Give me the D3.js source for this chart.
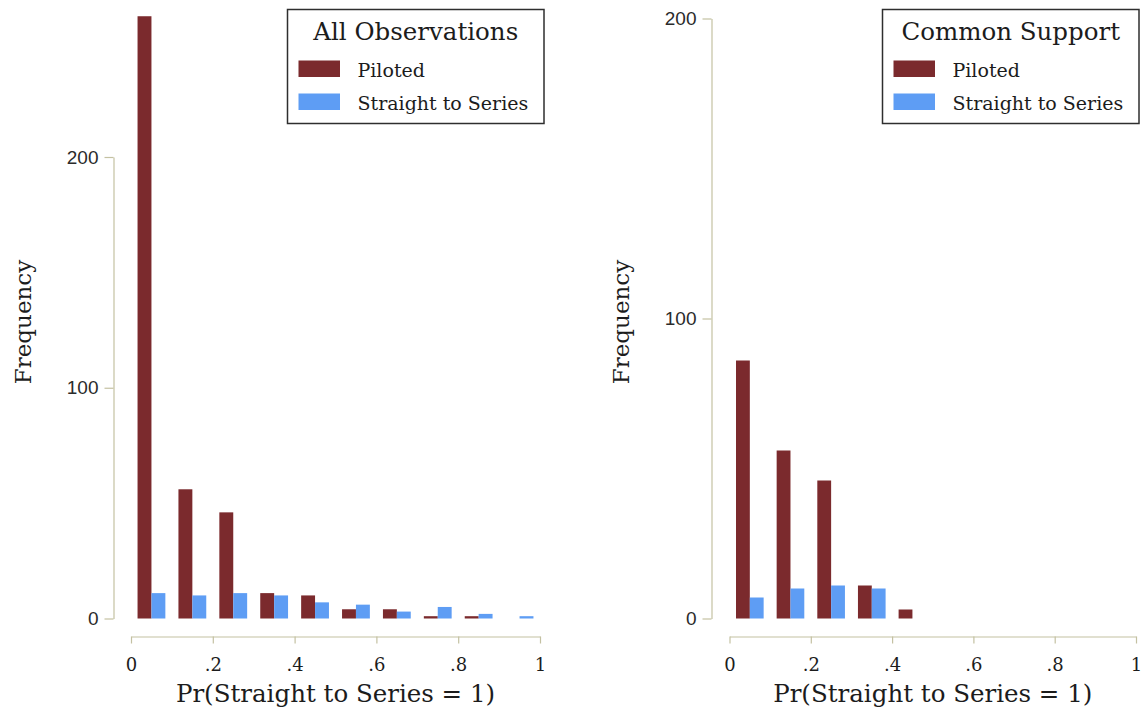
<!DOCTYPE html>
<html>
<head>
<meta charset="utf-8">
<script src="https://cdn.jsdelivr.net/npm/d3@7"></script>
<style>
  html, body { margin: 0; padding: 0; background: #ffffff; }
  svg { display: block; }
</style>
</head>
<body>
<svg id="chart" width="1145" height="713"></svg>
<script>
// Histogram bins of the propensity score Pr(Straight to Series = 1): bin centres
const binCenters = [0.05, 0.15, 0.25, 0.35, 0.45, 0.55, 0.65, 0.75, 0.85, 0.95];

// All observations
const allPiloted  = [261, 56, 46, 11, 10, 4, 4, 1, 1, 0];
const allStraight = [11, 10, 11, 10, 7, 6, 3, 5, 2, 1];

// Common-support sample
const csPiloted  = [86, 56, 46, 11, 3, 0, 0, 0, 0, 0];
const csStraight = [7, 10, 11, 10, 0, 0, 0, 0, 0, 0];

const seriesNames = ["Piloted", "Straight to Series"];
const panelTitles = ["All Observations", "Common Support"];

const xTickValues = [0, 0.2, 0.4, 0.6, 0.8, 1];
const xTickLabels = ["0", ".2", ".4", ".6", ".8", "1"];
const yTickValues = [0, 100, 200];
const yTickLabels = ["0", "100", "200"];

const xTitle = "Pr(Straight to Series = 1)";
const yTitle = "Frequency";

const colors = ["#7b2a2d", "#5e9df4"];
const axisColor = "#c4c1a2";
const textColor = "#1c1c1c";
const serif = "'DejaVu Serif', serif";
const sans = "'Liberation Sans', Arial, sans-serif";

const svg = d3.select("#chart");

function drawPanel(opt) {
  const g = svg.append("g");

  const x = d3.scaleLinear().domain([0, 1]).range([opt.x0, opt.x1]);
  const y = d3.scaleLinear().domain([0, 200]).range([opt.yBase, opt.yTop]);
  const barW = x(0.034) - x(0);

  // bars: Piloted to the left of each bin centre, Straight to Series to the right
  const series = [opt.piloted, opt.straight];
  series.forEach((vals, si) => {
    g.append("g").selectAll("rect")
      .data(vals.map((v, i) => ({ c: binCenters[i], v })).filter(d => d.v > 0))
      .join("rect")
        .attr("x", d => si === 0 ? x(d.c) - barW : x(d.c))
        .attr("width", barW)
        .attr("y", d => y(d.v))
        .attr("height", d => y(0) - y(d.v))
        .attr("fill", colors[si]);
  });

  // y axis
  const yAxis = g.append("g")
    .attr("transform", `translate(${opt.yAxisX},0)`)
    .call(d3.axisLeft(y)
      .tickValues(yTickValues)
      .tickFormat((d, i) => yTickLabels[i])
      .tickSize(9)
      .tickSizeOuter(0)
      .tickPadding(6));
  yAxis.select(".domain").attr("stroke", axisColor).attr("stroke-width", 1.2);
  yAxis.selectAll(".tick line").attr("stroke", axisColor).attr("stroke-width", 1.2);
  yAxis.selectAll(".tick text")
    .attr("font-family", sans)
    .attr("font-size", 19)
    .attr("fill", "#2b2b2b");

  // x axis
  const xAxis = g.append("g")
    .attr("transform", `translate(0,${opt.xAxisY})`)
    .call(d3.axisBottom(x)
      .tickValues(xTickValues)
      .tickFormat((d, i) => xTickLabels[i])
      .tickSize(7)
      .tickSizeOuter(0)
      .tickPadding(15));
  xAxis.select(".domain").attr("stroke", axisColor).attr("stroke-width", 1.2);
  xAxis.selectAll(".tick line").attr("stroke", axisColor).attr("stroke-width", 1.2);
  xAxis.selectAll(".tick text")
    .attr("font-family", serif)
    .attr("font-size", 18)
    .attr("fill", textColor);

  // axis titles
  g.append("text")
    .attr("x", (opt.x0 + opt.x1) / 2)
    .attr("y", 701.5)
    .attr("text-anchor", "middle")
    .attr("font-family", serif)
    .attr("font-size", 24.5)
    .attr("fill", textColor)
    .text(xTitle);

  g.append("text")
    .attr("transform", `translate(${opt.yTitleX},322) rotate(-90)`)
    .attr("text-anchor", "middle")
    .attr("font-family", serif)
    .attr("font-size", 23)
    .attr("fill", textColor)
    .text(yTitle);

  // legend box
  const lg = g.append("g").attr("transform", `translate(${opt.legendX},9.5)`);
  const lw = 256.5, lh = 114;
  lg.append("rect")
    .attr("width", lw).attr("height", lh)
    .attr("fill", "#ffffff")
    .attr("stroke", "#2e2e2e")
    .attr("stroke-width", 1.5);
  lg.append("text")
    .attr("x", lw / 2).attr("y", 30.5)
    .attr("text-anchor", "middle")
    .attr("font-family", serif)
    .attr("font-size", 24.5)
    .attr("fill", textColor)
    .text(opt.title);
  seriesNames.forEach((name, i) => {
    lg.append("rect")
      .attr("x", 11).attr("y", 51 + i * 33)
      .attr("width", 41.5).attr("height", 16.5)
      .attr("fill", colors[i]);
    lg.append("text")
      .attr("x", 70).attr("y", 67.5 + i * 33)
      .attr("font-family", serif)
      .attr("font-size", 19)
      .attr("fill", textColor)
      .text(name);
  });
}

drawPanel({
  x0: 131, x1: 540, yBase: 618.5, yTop: 157,
  yAxisX: 113.5, xAxisY: 636.5, yTitleX: 31,
  legendX: 287.5, title: panelTitles[0],
  piloted: allPiloted, straight: allStraight
});

drawPanel({
  x0: 729.5, x1: 1136, yBase: 618.5, yTop: 18.5,
  yAxisX: 711.5, xAxisY: 636.5, yTitleX: 629,
  legendX: 882.5, title: panelTitles[1],
  piloted: csPiloted, straight: csStraight
});
</script>
</body>
</html>
